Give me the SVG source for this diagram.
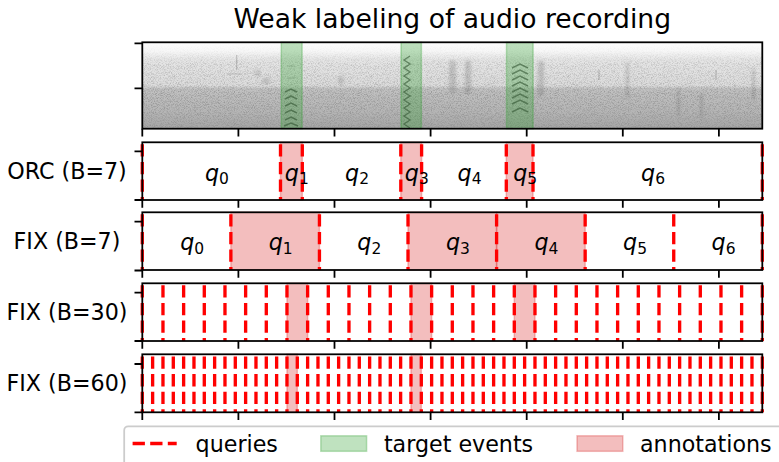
<svg xmlns="http://www.w3.org/2000/svg" width="779" height="462" viewBox="0 0 779 462">
<style>
text{font-family:"DejaVu Sans","Liberation Sans",sans-serif;fill:#000}
.title{font-size:26.6px}
.lab{font-size:22.2px}
.ql{font-size:22.2px}
.ql .v{font-style:italic}
.ql .s{font-size:15.5px}
.frame{fill:none;stroke:#000;stroke-width:1.78}
.tick{stroke:#000;stroke-width:1.78}
.q{stroke:#ff0000;stroke-width:3.33;stroke-dasharray:12.3 5.3;fill:none}
.ann{fill:#d62728;fill-opacity:0.3;stroke:#d62728;stroke-opacity:0.3;stroke-width:1.5}
.evt{fill:#2ca02c;fill-opacity:0.3;stroke:#2ca02c;stroke-opacity:0.3;stroke-width:1.5}
.mark{fill:none;stroke:#333;stroke-opacity:0.6;stroke-width:1.4}
.faint{fill:none;stroke:#555;stroke-opacity:0.3;stroke-width:1.2}
.blob{fill:#555;fill-opacity:0.22}
</style>
<defs>
<linearGradient id="specg" x1="0" y1="0" x2="0" y2="1">
<stop offset="0" stop-color="#fdfdfd"/>
<stop offset="0.1" stop-color="#f7f7f7"/>
<stop offset="0.2" stop-color="#e6e6e6"/>
<stop offset="0.5" stop-color="#dcdcdc"/>
<stop offset="0.54" stop-color="#c2c2c2"/>
<stop offset="0.8" stop-color="#b6b6b6"/>
<stop offset="1" stop-color="#a6a6a6"/>
</linearGradient>
<linearGradient id="noiseg" x1="0" y1="0" x2="0" y2="1">
<stop offset="0" stop-color="#fff" stop-opacity="0"/>
<stop offset="0.12" stop-color="#fff" stop-opacity="0.1"/>
<stop offset="0.25" stop-color="#fff" stop-opacity="0.45"/>
<stop offset="0.5" stop-color="#fff" stop-opacity="0.55"/>
<stop offset="0.54" stop-color="#fff" stop-opacity="0.9"/>
<stop offset="1" stop-color="#fff" stop-opacity="1"/>
</linearGradient>
<mask id="noisem" maskUnits="userSpaceOnUse" x="142" y="42" width="621" height="87">
<rect x="142.3" y="42.3" width="620" height="86.4" fill="url(#noiseg)"/>
</mask>
<filter id="grain" x="0" y="0" width="100%" height="100%">
<feTurbulence type="fractalNoise" baseFrequency="1.3 0.9" numOctaves="2" seed="7" result="n"/>
<feColorMatrix in="n" type="matrix" values="0 0 0 0 0.3  0 0 0 0 0.3  0 0 0 0 0.3  2.6 0 0 0 -1.08"/>
</filter>
<filter id="soft" x="-30%" y="-30%" width="160%" height="160%">
<feGaussianBlur stdDeviation="0.7"/>
</filter>
<filter id="softer" x="-50%" y="-30%" width="200%" height="160%">
<feGaussianBlur stdDeviation="1.6"/>
</filter>
<clipPath id="specclip"><rect x="142.3" y="42.3" width="620" height="86.4"/></clipPath>
<line id="d30" x1="0" y1="285.3" x2="0" y2="341" class="q"/>
<line id="d60" x1="0" y1="356.5" x2="0" y2="412.3" class="q"/>
</defs>

<rect width="779" height="462" fill="#fff"/>

<text class="title" x="452.3" y="28" text-anchor="middle">Weak labeling of audio recording</text>

<!-- Spectrogram -->
<g id="spectrogram">
<g clip-path="url(#specclip)">
<rect x="142.3" y="42.3" width="620" height="86.4" fill="url(#specg)"/>
<rect x="142.3" y="42.3" width="620" height="86.4" filter="url(#grain)" mask="url(#noisem)"/>
<g filter="url(#softer)">
<rect class="blob" x="449" y="60" width="7" height="33" rx="3.5"/>
<rect class="blob" x="465" y="60" width="6" height="34" rx="3"/>
<rect class="blob" x="538" y="60" width="6" height="36" rx="3"/>
<rect class="blob" x="626" y="62" width="3" height="36" rx="1.5"/>
<rect class="blob" x="752" y="68" width="3" height="32" rx="1.5"/>
<rect class="blob" x="677" y="88" width="3" height="28" rx="1.5"/>
<rect class="blob" x="700" y="92" width="3" height="26" rx="1.5"/>
<rect class="blob" x="255" y="70" width="6" height="6" rx="3"/>
<rect class="blob" x="262" y="78" width="8" height="6" rx="3"/>
<rect class="blob" x="338" y="76" width="6" height="8" rx="3"/>
</g>
<g filter="url(#soft)">
<path class="faint" d="M236.7 55 V70 M226.7 74 H242 M599 70 v10 M716 70 v10 M790 70 v8"/>
<path class="mark" d="M285 92 l6 -3 l6 3 M285 99 l6 -3 l6 3 M285 106 l6 -3 l6 3 M285 113 l6 -3 l6 3 M285 120 l6 -3 l6 3 M284 126 l7 -3 l7 3"/>
<path class="faint" d="M287 66 h8 M287 78 h8"/>
<path class="mark" d="M410 56 l-6 4 l6 4 l-6 4 l6 4 l-6 4 l6 4 l-6 4 l6 4 l-6 4 l6 4 l-6 4 l6 4 l-6 4 l6 4 l-6 4 l6 4 l-6 4 l6 4"/>
<path class="mark" d="M512 68 l8 -4 l8 4 M512 74 l8 -4 l8 4 M512 80 l8 -4 l8 4 M512 86 l8 -4 l8 4 M512 92 l8 -4 l8 4 M512 98 l8 -4 l8 4 M512 104 l8 -4 l8 4 M512 112 l8 -4 l8 4"/>
</g>
</g>
<rect class="evt" x="281.3" y="42.3" width="20.8" height="86.4"/>
<rect class="evt" x="401" y="42.3" width="20.4" height="86.4"/>
<rect class="evt" x="506.5" y="42.3" width="26.6" height="86.4"/>
<rect class="frame" x="142.3" y="42.3" width="620" height="86.4"/>
<path class="tick" d="M134.5 43.3 H142.3 M134.5 88.3 H142.3 M142.3 128.7 v7.8 M238.4 128.7 v7.8 M334.5 128.7 v7.8 M430.6 128.7 v7.8 M526.7 128.7 v7.8 M622.8 128.7 v7.8 M718.9 128.7 v7.8"/>
</g>

<!-- ORC row -->
<g id="row-orc">
<text class="lab" x="67" y="179" text-anchor="middle">ORC (B=7)</text>
<rect class="ann" x="280.5" y="142.3" width="21.8" height="57.7"/>
<rect class="ann" x="400.8" y="142.3" width="20.8" height="57.7"/>
<rect class="ann" x="506.3" y="142.3" width="26.7" height="57.7"/>
<g>
<line class="q" x1="142.3" y1="144.3" x2="142.3" y2="200"/>
<line class="q" x1="280.5" y1="144.3" x2="280.5" y2="200"/>
<line class="q" x1="302.3" y1="144.3" x2="302.3" y2="200"/>
<line class="q" x1="400.8" y1="144.3" x2="400.8" y2="200"/>
<line class="q" x1="421.6" y1="144.3" x2="421.6" y2="200"/>
<line class="q" x1="506.3" y1="144.3" x2="506.3" y2="200"/>
<line class="q" x1="533" y1="144.3" x2="533" y2="200"/>
<line class="q" x1="762.3" y1="144.3" x2="762.3" y2="200"/>
</g>
<text class="ql" x="217" y="180.5" text-anchor="middle"><tspan class="v">q</tspan><tspan class="s" dy="3.8">0</tspan></text>
<text class="ql" x="296.8" y="180.5" text-anchor="middle"><tspan class="v">q</tspan><tspan class="s" dy="3.8">1</tspan></text>
<text class="ql" x="357.1" y="180.5" text-anchor="middle"><tspan class="v">q</tspan><tspan class="s" dy="3.8">2</tspan></text>
<text class="ql" x="416.8" y="180.5" text-anchor="middle"><tspan class="v">q</tspan><tspan class="s" dy="3.8">3</tspan></text>
<text class="ql" x="469.6" y="180.5" text-anchor="middle"><tspan class="v">q</tspan><tspan class="s" dy="3.8">4</tspan></text>
<text class="ql" x="525.2" y="180.5" text-anchor="middle"><tspan class="v">q</tspan><tspan class="s" dy="3.8">5</tspan></text>
<text class="ql" x="653.1" y="180.5" text-anchor="middle"><tspan class="v">q</tspan><tspan class="s" dy="3.8">6</tspan></text>
<rect class="frame" x="142.3" y="142.3" width="620" height="57.7"/>
<path class="tick" d="M134.5 151.3 H142.3 M134.5 200 H142.3 M142.3 200 v7.8 M238.4 200 v7.8 M334.5 200 v7.8 M430.6 200 v7.8 M526.7 200 v7.8 M622.8 200 v7.8 M718.9 200 v7.8"/>
</g>

<!-- FIX B=7 row -->
<g id="row-fix7">
<text class="lab" x="67" y="249.3" text-anchor="middle">FIX (B=7)</text>
<rect class="ann" x="230.87" y="212.3" width="88.57" height="57.7"/>
<rect class="ann" x="408.01" y="212.3" width="88.58" height="57.7"/>
<rect class="ann" x="496.59" y="212.3" width="88.57" height="57.7"/>
<g>
<line class="q" x1="142.3" y1="214.3" x2="142.3" y2="270"/>
<line class="q" x1="230.87" y1="214.3" x2="230.87" y2="270"/>
<line class="q" x1="319.44" y1="214.3" x2="319.44" y2="270"/>
<line class="q" x1="408.01" y1="214.3" x2="408.01" y2="270"/>
<line class="q" x1="496.59" y1="214.3" x2="496.59" y2="270"/>
<line class="q" x1="585.16" y1="214.3" x2="585.16" y2="270"/>
<line class="q" x1="673.73" y1="214.3" x2="673.73" y2="270"/>
<line class="q" x1="762.3" y1="214.3" x2="762.3" y2="270"/>
</g>
<text class="ql" x="192.2" y="250.4" text-anchor="middle"><tspan class="v">q</tspan><tspan class="s" dy="3.8">0</tspan></text>
<text class="ql" x="280.7" y="250.4" text-anchor="middle"><tspan class="v">q</tspan><tspan class="s" dy="3.8">1</tspan></text>
<text class="ql" x="369.3" y="250.4" text-anchor="middle"><tspan class="v">q</tspan><tspan class="s" dy="3.8">2</tspan></text>
<text class="ql" x="457.9" y="250.4" text-anchor="middle"><tspan class="v">q</tspan><tspan class="s" dy="3.8">3</tspan></text>
<text class="ql" x="546.5" y="250.4" text-anchor="middle"><tspan class="v">q</tspan><tspan class="s" dy="3.8">4</tspan></text>
<text class="ql" x="635.1" y="250.4" text-anchor="middle"><tspan class="v">q</tspan><tspan class="s" dy="3.8">5</tspan></text>
<text class="ql" x="723.6" y="250.4" text-anchor="middle"><tspan class="v">q</tspan><tspan class="s" dy="3.8">6</tspan></text>
<rect class="frame" x="142.3" y="212.3" width="620" height="57.7"/>
<path class="tick" d="M134.5 221.7 H142.3 M134.5 270.5 H142.3 M142.3 270 v7.8 M238.4 270 v7.8 M334.5 270 v7.8 M430.6 270 v7.8 M526.7 270 v7.8 M622.8 270 v7.8 M718.9 270 v7.8"/>
</g>

<!-- FIX B=30 row -->
<g id="row-fix30">
<text class="lab" x="67" y="320" text-anchor="middle">FIX (B=30)</text>
<rect class="ann" x="286.97" y="283.3" width="20.66" height="57.7"/>
<rect class="ann" x="410.97" y="283.3" width="20.66" height="57.7"/>
<rect class="ann" x="514.3" y="283.3" width="20.67" height="57.7"/>
<g>
<use href="#d30" x="142.3"/><use href="#d30" x="162.97"/><use href="#d30" x="183.63"/><use href="#d30" x="204.3"/>
<use href="#d30" x="224.97"/><use href="#d30" x="245.63"/><use href="#d30" x="266.3"/><use href="#d30" x="286.97"/>
<use href="#d30" x="307.63"/><use href="#d30" x="328.3"/><use href="#d30" x="348.97"/><use href="#d30" x="369.63"/>
<use href="#d30" x="390.3"/><use href="#d30" x="410.97"/><use href="#d30" x="431.63"/><use href="#d30" x="452.3"/>
<use href="#d30" x="472.97"/><use href="#d30" x="493.63"/><use href="#d30" x="514.3"/><use href="#d30" x="534.97"/>
<use href="#d30" x="555.63"/><use href="#d30" x="576.3"/><use href="#d30" x="596.97"/><use href="#d30" x="617.63"/>
<use href="#d30" x="638.3"/><use href="#d30" x="658.97"/><use href="#d30" x="679.63"/><use href="#d30" x="700.3"/>
<use href="#d30" x="720.97"/><use href="#d30" x="741.63"/><use href="#d30" x="762.3"/>
</g>
<rect class="frame" x="142.3" y="283.3" width="620" height="57.7"/>
<path class="tick" d="M134.5 292.7 H142.3 M134.5 341 H142.3 M142.3 341 v7.8 M238.4 341 v7.8 M334.5 341 v7.8 M430.6 341 v7.8 M526.7 341 v7.8 M622.8 341 v7.8 M718.9 341 v7.8"/>
</g>

<!-- FIX B=60 row -->
<g id="row-fix60">
<text class="lab" x="67" y="390.5" text-anchor="middle">FIX (B=60)</text>
<rect class="ann" x="286.97" y="354.3" width="10.33" height="58"/>
<rect class="ann" x="410.97" y="354.3" width="10.33" height="58"/>
<g>
<use href="#d60" x="142.3"/><use href="#d60" x="152.63"/><use href="#d60" x="162.97"/><use href="#d60" x="173.3"/>
<use href="#d60" x="183.63"/><use href="#d60" x="193.97"/><use href="#d60" x="204.3"/><use href="#d60" x="214.63"/>
<use href="#d60" x="224.97"/><use href="#d60" x="235.3"/><use href="#d60" x="245.63"/><use href="#d60" x="255.97"/>
<use href="#d60" x="266.3"/><use href="#d60" x="276.63"/><use href="#d60" x="286.97"/><use href="#d60" x="297.3"/>
<use href="#d60" x="307.63"/><use href="#d60" x="317.97"/><use href="#d60" x="328.3"/><use href="#d60" x="338.63"/>
<use href="#d60" x="348.97"/><use href="#d60" x="359.3"/><use href="#d60" x="369.63"/><use href="#d60" x="379.97"/>
<use href="#d60" x="390.3"/><use href="#d60" x="400.63"/><use href="#d60" x="410.97"/><use href="#d60" x="421.3"/>
<use href="#d60" x="431.63"/><use href="#d60" x="441.97"/><use href="#d60" x="452.3"/><use href="#d60" x="462.63"/>
<use href="#d60" x="472.97"/><use href="#d60" x="483.3"/><use href="#d60" x="493.63"/><use href="#d60" x="503.97"/>
<use href="#d60" x="514.3"/><use href="#d60" x="524.63"/><use href="#d60" x="534.97"/><use href="#d60" x="545.3"/>
<use href="#d60" x="555.63"/><use href="#d60" x="565.97"/><use href="#d60" x="576.3"/><use href="#d60" x="586.63"/>
<use href="#d60" x="596.97"/><use href="#d60" x="607.3"/><use href="#d60" x="617.63"/><use href="#d60" x="627.97"/>
<use href="#d60" x="638.3"/><use href="#d60" x="648.63"/><use href="#d60" x="658.97"/><use href="#d60" x="669.3"/>
<use href="#d60" x="679.63"/><use href="#d60" x="689.97"/><use href="#d60" x="700.3"/><use href="#d60" x="710.63"/>
<use href="#d60" x="720.97"/><use href="#d60" x="731.3"/><use href="#d60" x="741.63"/><use href="#d60" x="751.97"/>
<use href="#d60" x="762.3"/>
</g>
<rect class="frame" x="142.3" y="354.3" width="620" height="58"/>
<path class="tick" d="M134.5 364 H142.3 M134.5 412.3 H142.3 M142.3 412.3 v7.8 M238.4 412.3 v7.8 M334.5 412.3 v7.8 M430.6 412.3 v7.8 M526.7 412.3 v7.8 M622.8 412.3 v7.8 M718.9 412.3 v7.8"/>
</g>

<!-- Legend -->
<g id="legend">
<rect x="124.2" y="426.3" width="700" height="60" rx="4" fill="#fff" fill-opacity="0.8" stroke="#cccccc" stroke-width="1.78"/>
<line class="q" x1="132.6" y1="443.5" x2="176.7" y2="443.5"/>
<text class="lab" x="195.6" y="451.5">queries</text>
<rect class="evt" x="320.8" y="435.8" width="45.8" height="15.5"/>
<text class="lab" x="383.9" y="451.5">target events</text>
<rect class="ann" x="577" y="435.8" width="45.8" height="15.5"/>
<text class="lab" x="640" y="451.5">annotations</text>
</g>
</svg>
